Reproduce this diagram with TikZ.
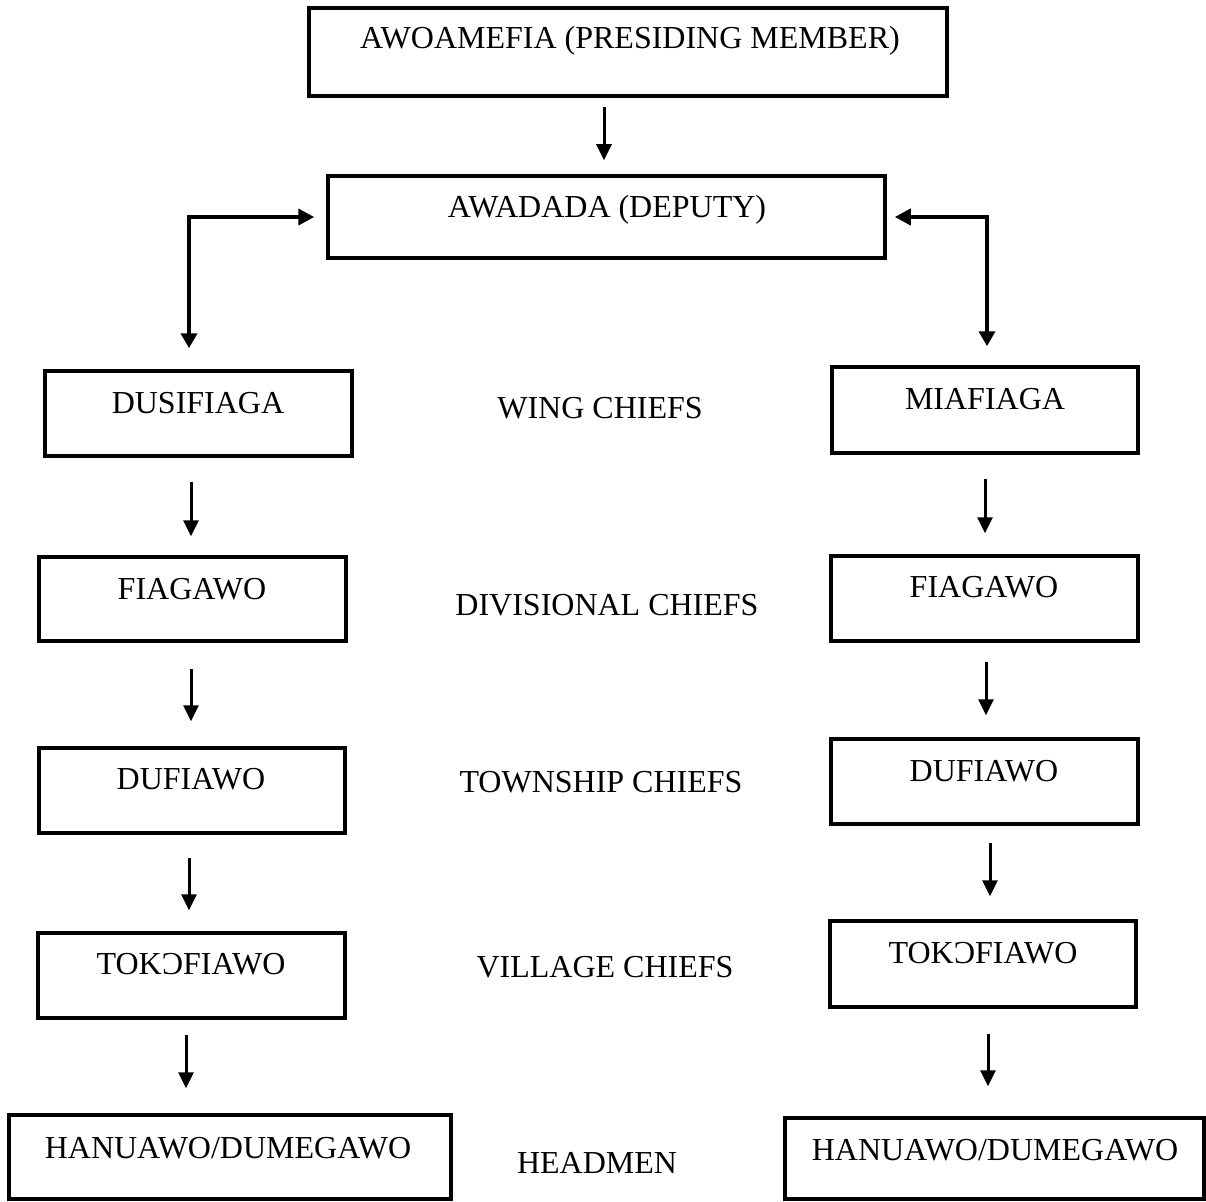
\documentclass[tikz,border=0pt]{standalone}
\usepackage{fontspec}
\setmainfont{Liberation Serif}
\usetikzlibrary{arrows.meta}
\tikzset{
  box/.style={draw, line width=3.5pt, inner sep=0pt},
  lbl/.style={anchor=base, inner sep=0pt, font=\fontsize{32}{38}\selectfont},
  arr/.style={line width=3pt, -{Triangle[length=16pt,width=15pt]}},
  conn/.style={line width=4pt, {Triangle[length=15pt,width=16pt]}-{Triangle[length=16pt,width=16pt]}},
}
\newcommand\downarr[5]{\draw[arr, shorten <=#4, shorten >=#5] ([xshift=#3]#1.south) -- ([xshift=#3]#1.south |- #2.north);}
\begin{document}
\begin{tikzpicture}[x=1pt,y=-1pt]
\useasboundingbox (0,0) rectangle (1206,1201);
% boxes
\node[box, minimum width=638pt, minimum height=88pt] (top) at (628,52) {};
\node[box, minimum width=557pt, minimum height=82pt] (awadada) at (606.5,217) {};
\node[box, minimum width=307pt, minimum height=85pt] (L1) at (198.5,413.5) {};
\node[box, minimum width=306pt, minimum height=86pt] (R1) at (985,410) {};
\node[box, minimum width=307pt, minimum height=84pt] (L2) at (192.5,599) {};
\node[box, minimum width=307pt, minimum height=85pt] (R2) at (984.5,598.5) {};
\node[box, minimum width=306pt, minimum height=85pt] (L3) at (192,790.5) {};
\node[box, minimum width=307pt, minimum height=85pt] (R3) at (984.5,781.5) {};
\node[box, minimum width=307pt, minimum height=85pt] (L4) at (191.5,975.5) {};
\node[box, minimum width=306pt, minimum height=86pt] (R4) at (983,964) {};
\node[box, minimum width=442pt, minimum height=84pt] (L5) at (230,1157) {};
\node[box, minimum width=419pt, minimum height=81pt] (R5) at (994.5,1158.5) {};
% texts
\node[lbl] (tTop) at (630,49) {AWOAMEFIA (PRESIDING MEMBER)};
\node[lbl] (tAwa) at (607,217) {AWADADA (DEPUTY)};
\node[lbl] (tL1) at (198,413) {DUSIFIAGA};
\node[lbl] (tR1) at (985,409) {MIAFIAGA};
\node[lbl] (tWing) at (600,418) {WING CHIEFS};
\node[lbl] (tL2) at (192,599) {FIAGAWO};
\node[lbl] (tR2) at (984,597) {FIAGAWO};
\node[lbl] (tDiv) at (607,615) {DIVISIONAL CHIEFS};
\node[lbl] (tL3) at (191,789) {DUFIAWO};
\node[lbl] (tR3) at (984,781) {DUFIAWO};
\node[lbl] (tTown) at (601,792) {TOWNSHIP CHIEFS};
\node[lbl] (tL4) at (191,974) {TOKƆFIAWO};
\node[lbl] (tR4) at (983,963) {TOKƆFIAWO};
\node[lbl] (tVil) at (605,977) {VILLAGE CHIEFS};
\node[lbl] (tL5) at (228,1158) {HANUAWO/DUMEGAWO};
\node[lbl] (tR5) at (995,1160) {HANUAWO/DUMEGAWO};
\node[lbl] (tHead) at (597,1173) {HEADMEN};
% connectors
\downarr{top}{awadada}{-24pt}{9pt}{14pt}
\draw[conn, shorten <=21pt, shorten >=12pt] ([xshift=-9.5pt]L1.north) |- (awadada.west);
\draw[conn, shorten <=19pt, shorten >=8pt] ([xshift=2pt]R1.north) |- (awadada.east);
\downarr{L1}{L2}{-7.5pt}{24pt}{19pt}
\downarr{R1}{R2}{0pt}{24pt}{21pt}
\downarr{L2}{L3}{-1.5pt}{26pt}{25pt}
\downarr{R2}{R3}{1.5pt}{19pt}{22pt}
\downarr{L3}{L4}{-3pt}{23pt}{21pt}
\downarr{R3}{R4}{5.5pt}{17pt}{23pt}
\downarr{L4}{L5}{-5.5pt}{15pt}{25pt}
\downarr{R4}{R5}{5pt}{25pt}{30pt}
\end{tikzpicture}
\end{document}
